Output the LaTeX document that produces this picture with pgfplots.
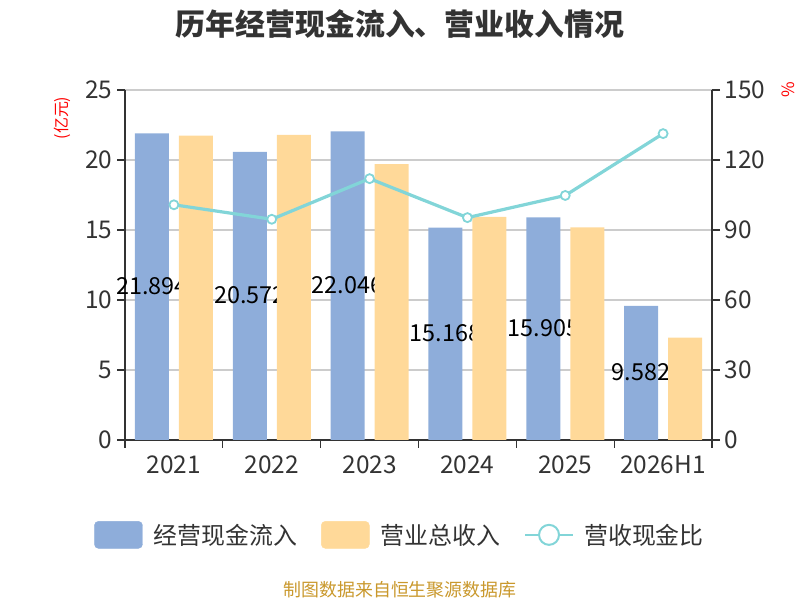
\documentclass[border=0pt]{standalone}
\usepackage{pgfplots}
\pgfplotsset{compat=1.18}
\usepackage{fontspec}
\setmainfont{Noto Sans CJK SC}
\definecolor{cblue}{HTML}{8EADDA}
\definecolor{corange}{HTML}{FFD999}
\definecolor{cline}{HTML}{82D5D8}
\definecolor{cdark}{HTML}{333333}
\definecolor{cgrid}{HTML}{CCCCCC}
\definecolor{cfoot}{HTML}{C9982C}
\begin{document}
\begin{tikzpicture}[x=1bp,y=1bp]
\useasboundingbox (0,0) rectangle (800,600);
\pgfplotsset{
  base/.style={
    scale only axis, width=587bp, height=350bp,
    at={(125bp,160bp)}, anchor=south west,
    xmin=-0.5, xmax=5.5,
    /pgf/number format/assume math mode=true,
    ticklabel style={font=\fontsize{24.5}{27}\selectfont, text=cdark},
  },
}
% axis 1: left axis, grid, blue bars with labels
\begin{axis}[base,
  ymin=0, ymax=25, ytick={0,5,...,25},
  axis x line*=bottom, axis y line*=left,
  axis line style={-, draw=cdark, line width=1.3bp},
  tick style={draw=cdark, line width=1.3bp},
  tick align=outside, major tick length=8bp, minor tick length=8bp,
  xtick={0,...,5}, xticklabels={2021,2022,2023,2024,2025,2026H1},
  x tick style={draw=none},
  minor xtick={-0.5,0.5,...,5.5},
  minor x tick style={draw=cdark, line width=1.3bp},
  ytick pos=left,
  ymajorgrids, grid style={cgrid, line width=1.2bp},
  xticklabel style={yshift=-4bp},
  yticklabel style={xshift=-1bp},
]
\addplot[ybar, bar width=34bp, bar shift=-22bp, fill=cblue, draw=none,
  nodes near coords={\pgfmathprintnumber[fixed,precision=3,fixed zerofill]{\pgfplotspointmeta}},
  visualization depends on={y/2 \as \halfy},
  scatter/position=absolute,
  every node near coord/.append style={anchor=center, font=\fontsize{23.5}{26}\selectfont, text=black},
  node near coords style={at={(axis cs:\pgfkeysvalueof{/data point/x},\halfy)}, xshift=-22bp, yshift=1bp, anchor=center},
] coordinates {(0,21.894) (1,20.572) (2,22.046) (3,15.168) (4,15.905) (5,9.582)};
\end{axis}
% axis 2: orange bars drawn over the labels
\begin{axis}[base, hide axis, ymin=0, ymax=25]
\addplot[ybar, bar width=34bp, bar shift=22bp, fill=corange, draw=none]
  coordinates {(0,21.74) (1,21.79) (2,19.71) (3,15.93) (4,15.19) (5,7.31)};
\end{axis}
% axis 3: right axis, ratio line, legend
\begin{axis}[base,
  ymin=0, ymax=150, ytick={0,30,...,150},
  axis x line=none, axis y line*=right,
  axis line style={-, draw=cdark, line width=1.3bp},
  tick style={draw=cdark, line width=1.3bp},
  tick align=outside, major tick length=8bp,
  yticklabel style={xshift=1bp},
  legend columns=3,
  legend style={at={(0.4685,-0.271)}, anchor=center, draw=none, fill=none,
    font=\fontsize{24}{27}\selectfont, text=cdark,
    /tikz/every even column/.append style={column sep=22bp},
    legend cell align=left},
]
\addplot[cline, line width=3.2bp, mark=*, mark size=4.5bp,
  mark options={fill=white, draw=cline, line width=1.8bp}, forget plot]
  coordinates {(0,100.8) (1,94.6) (2,112.0) (3,95.3) (4,104.8) (5,131.3)};
\addlegendimage{legend image code/.code={\fill[cblue, rounded corners=4bp] (0bp,-13.5bp) rectangle (48bp,13.5bp); \path (57bp,0bp);}}
\addlegendentry{经营现金流入}
\addlegendimage{legend image code/.code={\fill[corange, rounded corners=4bp] (0bp,-13.5bp) rectangle (48bp,13.5bp); \path (57bp,0bp);}}
\addlegendentry{营业总收入}
\addlegendimage{legend image code/.code={\draw[cline, line width=2bp] (0bp,0bp) -- (48bp,0bp); \draw[cline, line width=2bp, fill=white] (24bp,0bp) circle (10bp); \path (57bp,0bp);}}
\addlegendentry{营收现金比}
\end{axis}
\node[font=\fontsize{30}{33}\selectfont\bfseries, text=cdark] at (400,576) {历年经营现金流入、营业收入情况};
\node[font=\fontsize{16}{18}\selectfont, text=red, rotate=90] at (62,482) {(亿元)};
\node[font=\fontsize{17}{19}\selectfont, text=red, rotate=90] at (788,510) {\%};
\node[font=\fontsize{18}{20}\selectfont, text=cfoot] at (400,10) {制图数据来自恒生聚源数据库};
\end{tikzpicture}
\end{document}
